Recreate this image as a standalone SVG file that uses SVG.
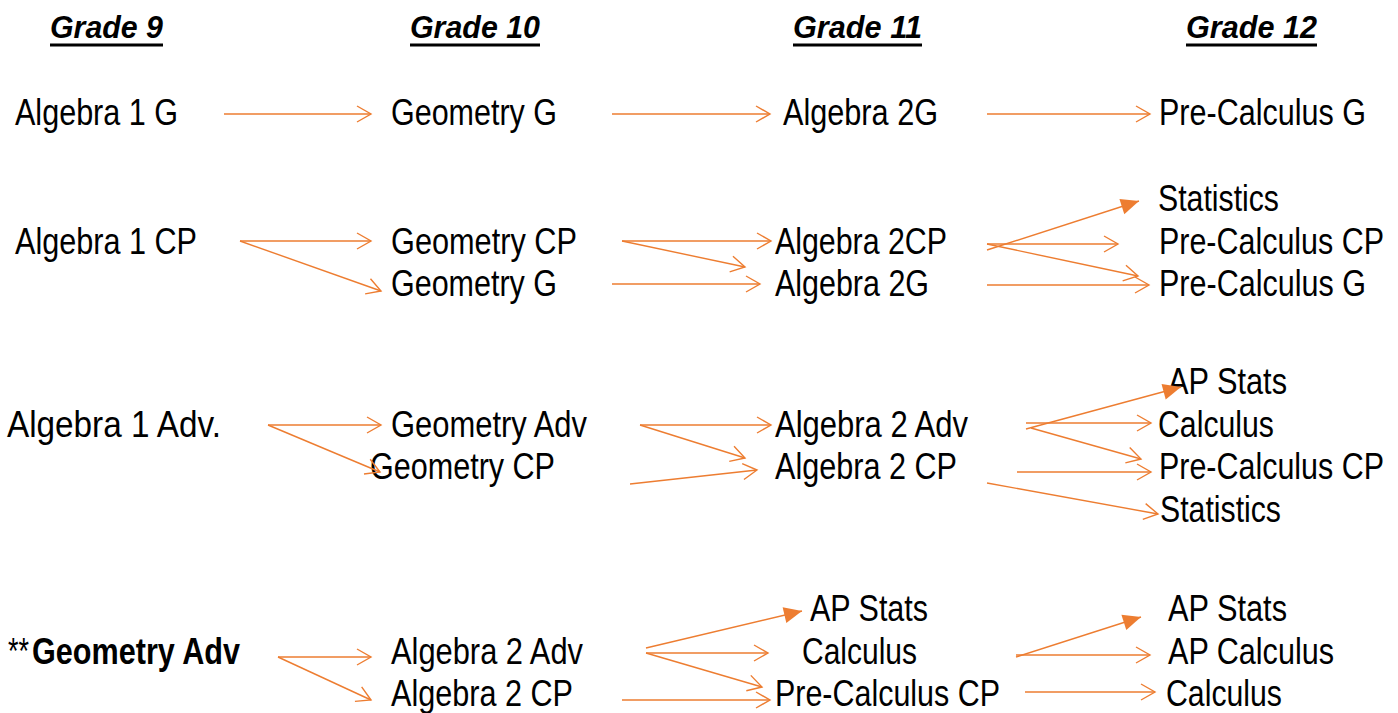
<svg xmlns="http://www.w3.org/2000/svg" width="1398" height="713" viewBox="0 0 1398 713">
<style>
text{font-family:"Liberation Sans",Arial,sans-serif;fill:#000;}
.t{font-size:36px;}
.h{font-size:32px;font-weight:bold;font-style:italic;}
.u{stroke:#000;stroke-width:3;}
.c line{stroke:#ED7D31;stroke-width:1.4;fill:none;}
.o{marker-end:url(#open);}
.f{marker-end:url(#fill);}
</style>
<defs>
<marker id="open" markerUnits="userSpaceOnUse" viewBox="-16 -10 18 20" refX="0" refY="0" markerWidth="18" markerHeight="20" orient="auto" overflow="visible">
<path d="M-14,-8 L0,0 L-14,8" fill="none" stroke="#ED7D31" stroke-width="1.4"/>
</marker>
<marker id="fill" markerUnits="userSpaceOnUse" viewBox="-20 -10 22 20" refX="0" refY="0" markerWidth="22" markerHeight="20" orient="auto" overflow="visible">
<path d="M-18,-8 L0,0 L-18,8 Z" fill="#ED7D31" stroke="none"/>
</marker>
</defs>
<rect width="1398" height="713" fill="#fff"/>
<g id="headers">
<text class="h" x="50" y="38" textLength="113" lengthAdjust="spacingAndGlyphs">Grade 9</text>
<line class="u" x1="50" y1="45" x2="163" y2="45"/>
<text class="h" x="410" y="38" textLength="130" lengthAdjust="spacingAndGlyphs">Grade 10</text>
<line class="u" x1="410" y1="45" x2="540" y2="45"/>
<text class="h" x="793" y="38" textLength="129" lengthAdjust="spacingAndGlyphs">Grade 11</text>
<line class="u" x1="793" y1="45" x2="922" y2="45"/>
<text class="h" x="1186" y="38" textLength="131" lengthAdjust="spacingAndGlyphs">Grade 12</text>
<line class="u" x1="1186" y1="45" x2="1317" y2="45"/>
</g>
<g id="row1">
<g id="r1-alg1g"><text class="t" x="15" y="125" textLength="163" lengthAdjust="spacingAndGlyphs">Algebra 1 G</text></g>
<g id="r1-geog"><text class="t" x="391" y="125" textLength="166" lengthAdjust="spacingAndGlyphs">Geometry G</text></g>
<g id="r1-alg2g"><text class="t" x="783" y="125" textLength="155" lengthAdjust="spacingAndGlyphs">Algebra 2G</text></g>
<g id="r1-precalcg"><text class="t" x="1159" y="125" textLength="207" lengthAdjust="spacingAndGlyphs">Pre-Calculus G</text></g>
</g>
<g id="row2">
<g id="r2-alg1cp"><text class="t" x="15" y="254" textLength="182" lengthAdjust="spacingAndGlyphs">Algebra 1 CP</text></g>
<g id="r2-geocp"><text class="t" x="391" y="254" textLength="186" lengthAdjust="spacingAndGlyphs">Geometry CP</text></g>
<g id="r2-geog"><text class="t" x="391" y="296" textLength="166" lengthAdjust="spacingAndGlyphs">Geometry G</text></g>
<g id="r2-alg2cp"><text class="t" x="775" y="254" textLength="172" lengthAdjust="spacingAndGlyphs">Algebra 2CP</text></g>
<g id="r2-alg2g"><text class="t" x="775" y="296" textLength="154" lengthAdjust="spacingAndGlyphs">Algebra 2G</text></g>
<g id="r2-stats"><text class="t" x="1158" y="211" textLength="121" lengthAdjust="spacingAndGlyphs">Statistics</text></g>
<g id="r2-precalccp"><text class="t" x="1159" y="254" textLength="225" lengthAdjust="spacingAndGlyphs">Pre-Calculus CP</text></g>
<g id="r2-precalcg"><text class="t" x="1159" y="296" textLength="207" lengthAdjust="spacingAndGlyphs">Pre-Calculus G</text></g>
</g>
<g id="row3">
<g id="r3-alg1adv"><text class="t" x="7" y="437" textLength="214" lengthAdjust="spacingAndGlyphs">Algebra 1 Adv.</text></g>
<g id="r3-geoadv"><text class="t" x="391" y="437" textLength="196" lengthAdjust="spacingAndGlyphs">Geometry Adv</text></g>
<g id="r3-geocp"><text class="t" x="370" y="479" textLength="185" lengthAdjust="spacingAndGlyphs">Geometry CP</text></g>
<g id="r3-alg2adv"><text class="t" x="775" y="437" textLength="193" lengthAdjust="spacingAndGlyphs">Algebra 2 Adv</text></g>
<g id="r3-alg2cp"><text class="t" x="775" y="479" textLength="182" lengthAdjust="spacingAndGlyphs">Algebra 2 CP</text></g>
<g id="r3-apstats"><text class="t" x="1168" y="394" textLength="119" lengthAdjust="spacingAndGlyphs">AP Stats</text></g>
<g id="r3-calc"><text class="t" x="1158" y="437" textLength="116" lengthAdjust="spacingAndGlyphs">Calculus</text></g>
<g id="r3-precalccp"><text class="t" x="1159" y="479" textLength="225" lengthAdjust="spacingAndGlyphs">Pre-Calculus CP</text></g>
<g id="r3-stats"><text class="t" x="1160" y="522" textLength="121" lengthAdjust="spacingAndGlyphs">Statistics</text></g>
</g>
<g id="row4">
<g id="r4-geoadv"><text class="t" x="8" y="664"><tspan x="8" textLength="21" lengthAdjust="spacingAndGlyphs">**</tspan><tspan x="32" font-weight="bold" textLength="208" lengthAdjust="spacingAndGlyphs">Geometry Adv</tspan></text></g>
<g id="r4-alg2adv"><text class="t" x="391" y="664" textLength="192" lengthAdjust="spacingAndGlyphs">Algebra 2 Adv</text></g>
<g id="r4-alg2cp"><text class="t" x="391" y="706" textLength="182" lengthAdjust="spacingAndGlyphs">Algebra 2 CP</text></g>
<g id="r4-apstats11"><text class="t" x="810" y="621" textLength="118" lengthAdjust="spacingAndGlyphs">AP Stats</text></g>
<g id="r4-calc11"><text class="t" x="802" y="664" textLength="115" lengthAdjust="spacingAndGlyphs">Calculus</text></g>
<g id="r4-precalccp"><text class="t" x="775" y="706" textLength="225" lengthAdjust="spacingAndGlyphs">Pre-Calculus CP</text></g>
<g id="r4-apstats12"><text class="t" x="1168" y="621" textLength="119" lengthAdjust="spacingAndGlyphs">AP Stats</text></g>
<g id="r4-apcalc"><text class="t" x="1168" y="664" textLength="166" lengthAdjust="spacingAndGlyphs">AP Calculus</text></g>
<g id="r4-calc12"><text class="t" x="1166" y="706" textLength="116" lengthAdjust="spacingAndGlyphs">Calculus</text></g>
</g>
<g id="connectors" class="c">
<line class="o" x1="224" y1="114" x2="371" y2="114"/>
<line class="o" x1="612" y1="114" x2="770" y2="114"/>
<line class="o" x1="987" y1="114" x2="1150" y2="114"/>

<line class="o" x1="240" y1="241" x2="371" y2="241"/>
<line class="o" x1="240" y1="241" x2="381" y2="291"/>
<line class="o" x1="622" y1="241" x2="771" y2="241"/>
<line class="o" x1="622" y1="241" x2="745" y2="267"/>
<line class="o" x1="612" y1="284" x2="760" y2="284"/>
<line class="f" x1="987" y1="250" x2="1139" y2="201"/>
<line class="o" x1="987" y1="244" x2="1118" y2="244"/>
<line class="o" x1="987" y1="244" x2="1138" y2="276"/>
<line class="o" x1="987" y1="285" x2="1149" y2="285"/>

<line class="o" x1="268" y1="425" x2="381" y2="425"/>
<line class="o" x1="268" y1="425" x2="380" y2="472"/>
<line class="o" x1="640" y1="425" x2="771" y2="425"/>
<line class="o" x1="640" y1="425" x2="745" y2="458"/>
<line class="o" x1="630" y1="484" x2="757" y2="470"/>
<line class="f" x1="1026" y1="429" x2="1181" y2="387"/>
<line class="o" x1="1026" y1="423" x2="1151" y2="423"/>
<line class="o" x1="1031" y1="428" x2="1141" y2="459"/>
<line class="o" x1="1017" y1="472" x2="1151" y2="472"/>
<line class="o" x1="987" y1="483" x2="1158" y2="514"/>

<line class="o" x1="278" y1="657" x2="371" y2="657"/>
<line class="o" x1="278" y1="657" x2="371" y2="700"/>
<line class="f" x1="646" y1="648" x2="802" y2="611"/>
<line class="o" x1="646" y1="653" x2="768" y2="653"/>
<line class="o" x1="646" y1="653" x2="762" y2="687"/>
<line class="o" x1="622" y1="700" x2="770" y2="700"/>
<line class="f" x1="1016" y1="657" x2="1141" y2="617"/>
<line class="o" x1="1016" y1="655" x2="1150" y2="655"/>
<line class="o" x1="1025" y1="692" x2="1155" y2="692"/>
</g>
</svg>
